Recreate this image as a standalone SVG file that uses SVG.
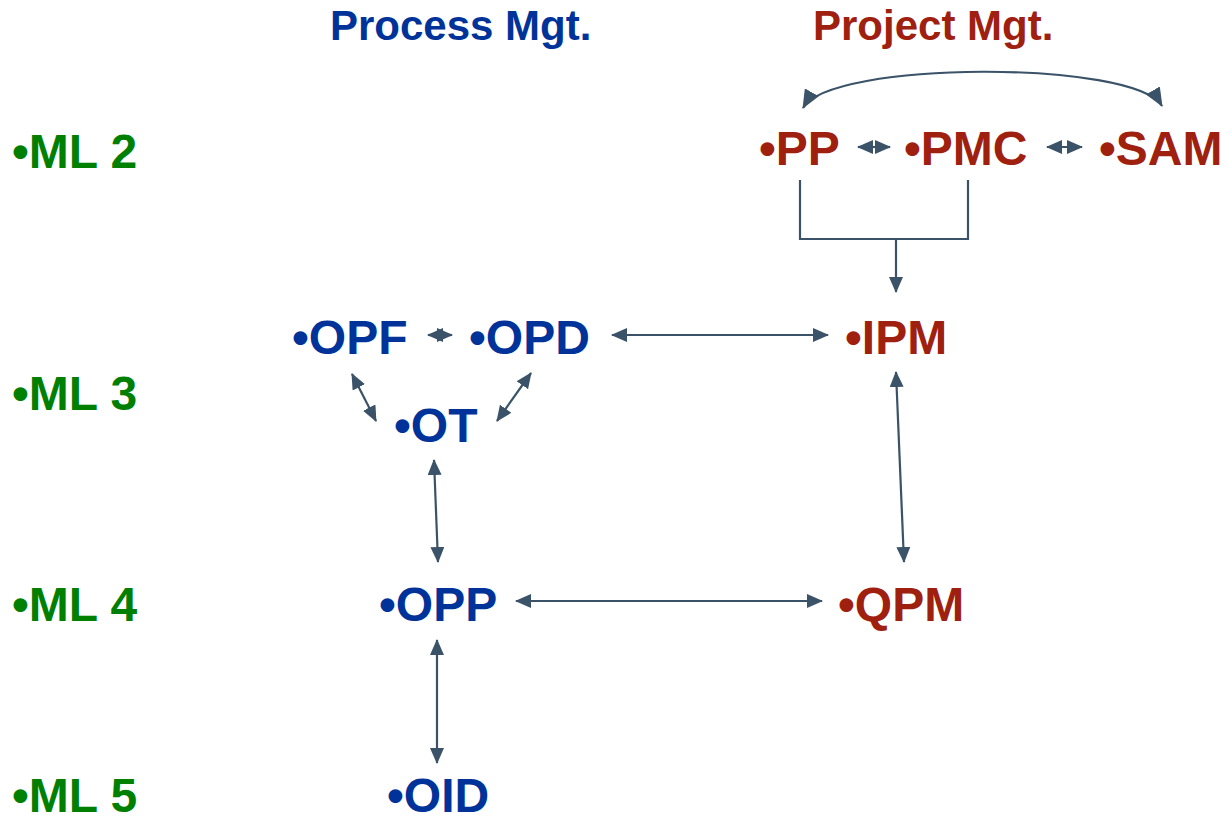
<svg xmlns="http://www.w3.org/2000/svg" width="1224" height="821" viewBox="0 0 1224 821">
<style>
text{font-family:"Liberation Sans",Arial,sans-serif;font-weight:bold;}
.n{font-size:48px;}
.h{font-size:42px;}
.b{fill:#003399;}
.r{fill:#A0200F;}
.g{fill:#008000;}
.c{stroke:#3B5368;stroke-width:2.2;fill:none;}
.a{marker-start:url(#ah);marker-end:url(#ah);}
.e{marker-end:url(#ah);}
.big{marker-start:url(#ahb);marker-end:url(#ahb);}
</style>
<defs>
<marker id="ah" markerUnits="userSpaceOnUse" markerWidth="16" markerHeight="14" refX="15" refY="7" orient="auto-start-reverse">
<path d="M0,0 L16,7 L0,14 z" fill="#3B5368"/>
</marker>
<marker id="ahb" markerUnits="userSpaceOnUse" markerWidth="19" markerHeight="16" refX="18" refY="8" orient="auto-start-reverse">
<path d="M0,0 L19,8 L0,16 z" fill="#3B5368"/>
</marker>
</defs>
<rect width="1224" height="821" fill="#ffffff"/>
<g id="headers">
<text class="h b" x="330" y="40">Process Mgt.</text>
<text class="h r" x="813" y="40">Project Mgt.</text>
</g>
<g id="levels">
<text class="n g" x="12" y="168">•ML 2</text>
<text class="n g" x="12" y="410">•ML 3</text>
<text class="n g" x="12" y="621">•ML 4</text>
<text class="n g" x="12" y="812">•ML 5</text>
</g>
<g id="PP"><text class="n r" x="759" y="165">•PP</text></g>
<g id="PMC"><text class="n r" x="904" y="165">•PMC</text></g>
<g id="SAM"><text class="n r" x="1099" y="165">•SAM</text></g>
<g id="IPM"><text class="n r" x="845" y="354">•IPM</text></g>
<g id="QPM"><text class="n r" x="838" y="621">•QPM</text></g>
<g id="OPF"><text class="n b" x="292" y="354">•OPF</text></g>
<g id="OPD"><text class="n b" x="469" y="354">•OPD</text></g>
<g id="OT"><text class="n b" x="394" y="442">•OT</text></g>
<g id="OPP"><text class="n b" x="379" y="621">•OPP</text></g>
<g id="OID"><text class="n b" x="387" y="812">•OID</text></g>
<g id="connectors">
<path class="c big" d="M803,108 C830,60 1135,60 1162,106"/>
<line class="c a" x1="858" y1="147" x2="890" y2="147"/>
<line class="c a" x1="1047" y1="147" x2="1082" y2="147"/>
<polyline class="c" points="800,180 800,239 968,239 968,180"/>
<line class="c e" x1="896" y1="239" x2="896" y2="292"/>
<line class="c a" x1="428" y1="335" x2="452" y2="335"/>
<line class="c a" x1="612" y1="335" x2="828" y2="335"/>
<line class="c a" x1="352" y1="374" x2="376" y2="421"/>
<line class="c a" x1="531" y1="373" x2="497" y2="421"/>
<line class="c a" x1="434" y1="460" x2="438" y2="562"/>
<line class="c a" x1="896" y1="372" x2="904" y2="562"/>
<line class="c a" x1="516" y1="601" x2="822" y2="601"/>
<line class="c a" x1="437" y1="640" x2="437" y2="763"/>
</g>
</svg>
